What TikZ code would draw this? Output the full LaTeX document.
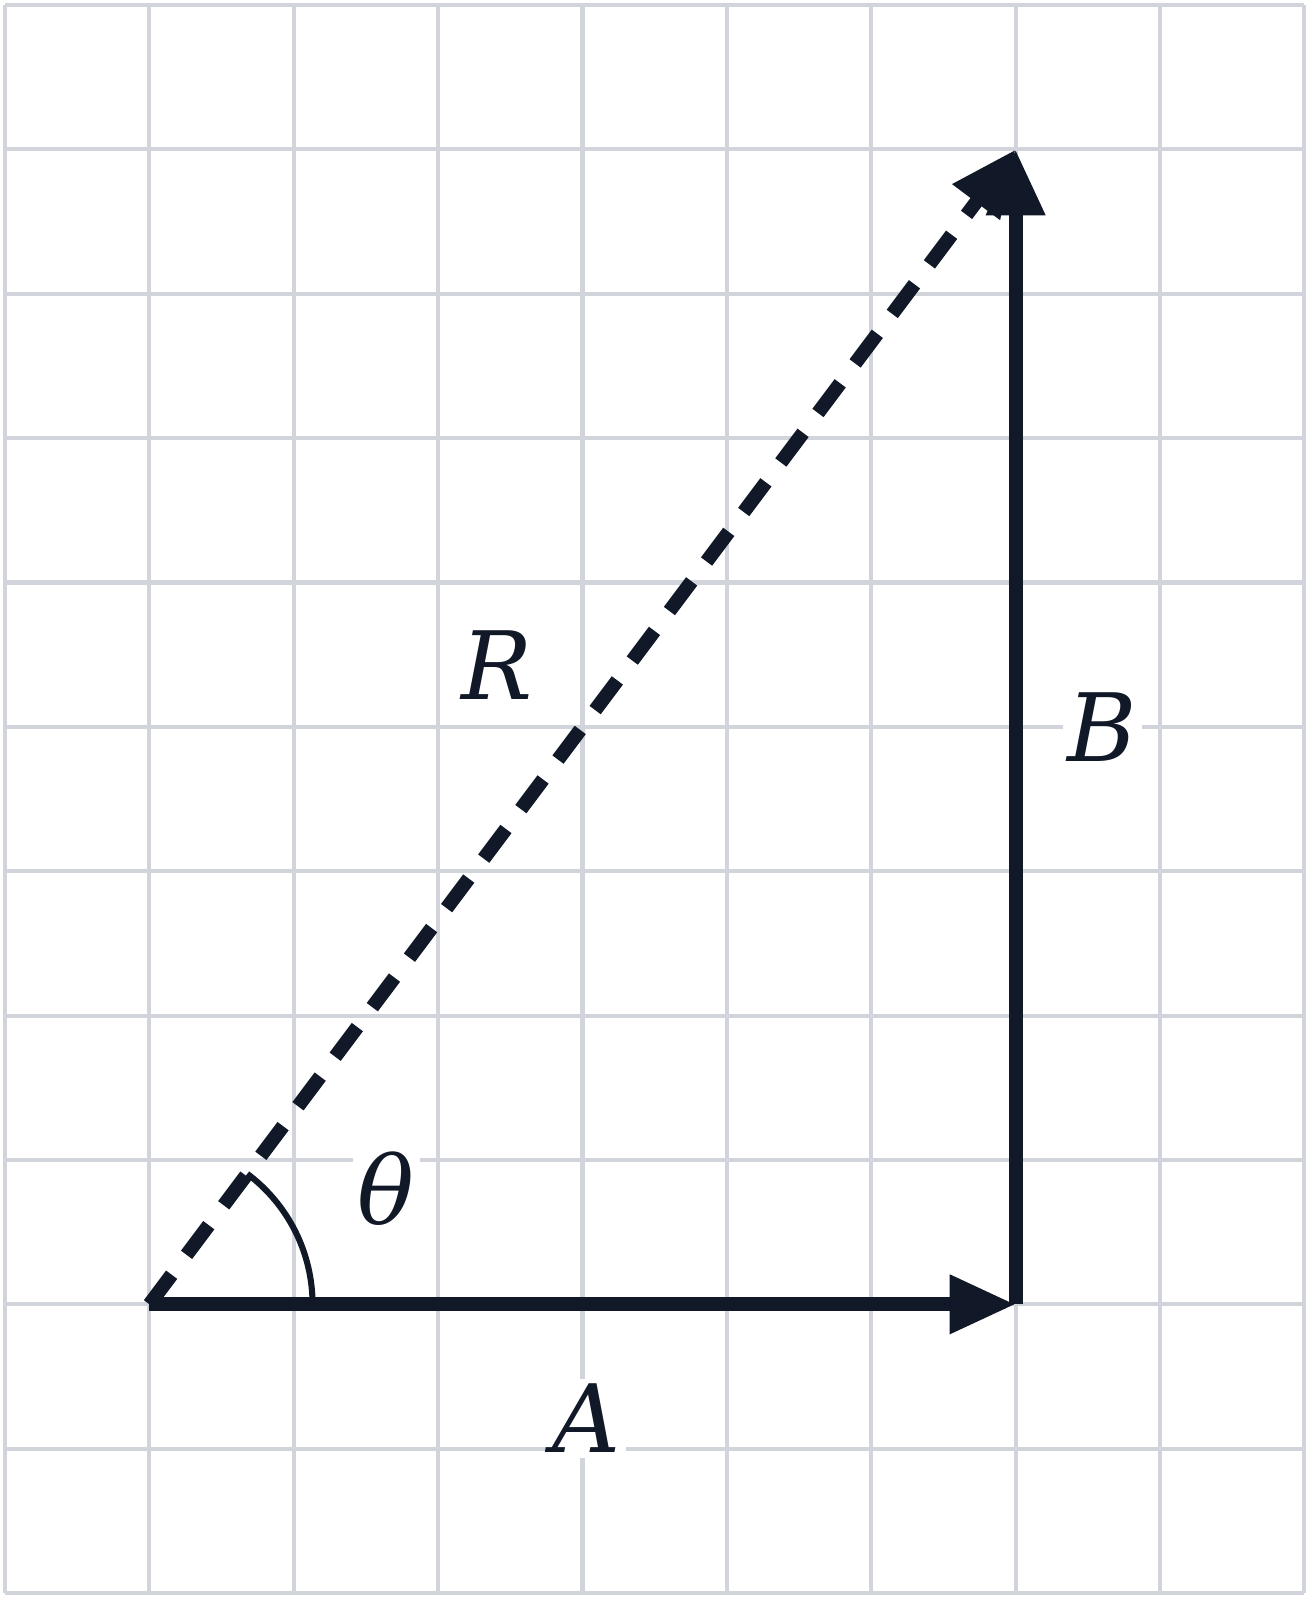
\documentclass[tikz,border=0pt]{standalone}
\usepackage{fontspec}
\setmainfont{DejaVu Serif}
\usetikzlibrary{arrows.meta}
\definecolor{gridgray}{HTML}{D1D5DB}
\definecolor{ink}{HTML}{111827}
\tikzset{
  gridline/.style={draw=gridgray, line width=0.8pt},
  vec/.style={draw=ink, line width=2.75pt, line cap=butt,
    -{Triangle[length=13pt, width=11pt]}},
  dashvec/.style={vec, dash pattern=on 7.3pt off 4.9pt},
  anglearc/.style={draw=ink, line width=1.2pt},
  lbl/.style={fill=white, text=ink, inner sep=1pt, font=\fontsize{18.6}{22}\selectfont\itshape}
}
\begin{document}
\begin{tikzpicture}
\useasboundingbox (-0.035,-0.048) rectangle (9.044,11.035);
\draw[gridline] (0,0) grid (9,11);
\coordinate (O) at (1,2);
\coordinate (Aend) at (7,2);
\coordinate (Bend) at (7,10);
\coordinate (arcstart) at (2.13,2);
\node[lbl] (labR) at (3.41,6.43) {R};
\node[lbl] (labB) at (7.6,6.0) {B};
\node[lbl] (labA) at (4.03,1.21) {A};
\node[lbl] (labT) at (2.64,2.8) {θ};
\draw[anglearc] (arcstart) arc[start angle=0, end angle=53.13, radius=1.13];
\draw[dashvec] (O) -- (Bend);
\draw[vec] (O) -- (Aend);
\draw[vec] (Aend) -- (Bend);
\end{tikzpicture}
\end{document}
